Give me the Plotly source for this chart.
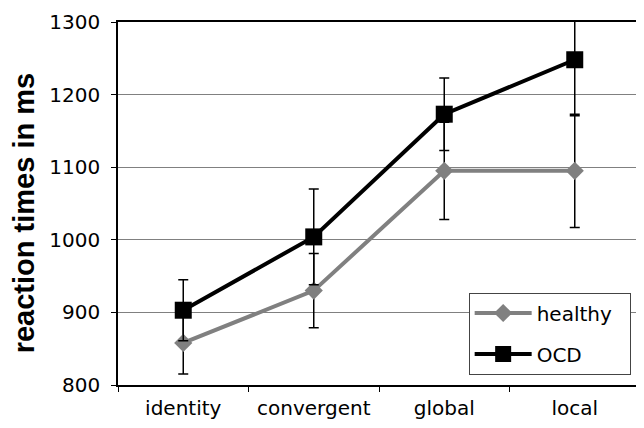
import plotly.graph_objects as go

categories = ["identity", "convergent", "global", "local"]
healthy = [858, 930, 1095, 1095]
healthy_err = [43, 51, 67, 78]
ocd = [903, 1004, 1173, 1248]
ocd_err = [42, 66, 50, 77]
y_ticks = [800, 900, 1000, 1100, 1200, 1300]

FONT = "DejaVu Sans, Liberation Sans, Arial, sans-serif"
TITLE_FONT = "Liberation Sans, Arial, sans-serif"

fig = go.Figure()
fig.add_trace(go.Scatter(
    x=categories, y=healthy, name="healthy\u00a0\u00a0", mode="lines+markers",
    legendgroup="h",
    line=dict(color="#808080", width=4),
    marker=dict(symbol="diamond", size=14, color="#808080"),
    error_y=dict(type="data", array=healthy_err, visible=True,
                 color="black", thickness=1.5, width=5),
))
fig.add_trace(go.Scatter(
    x=categories, y=ocd, name="OCD", mode="lines+markers",
    legendgroup="o",
    line=dict(color="black", width=4),
    marker=dict(symbol="square", size=17, color="black"),
    error_y=dict(type="data", array=ocd_err, visible=True,
                 color="black", thickness=1.5, width=5),
))

# page body has an 8px margin, so the figure is offset by 8px
fig.update_layout(
    width=636, height=420,
    margin=dict(l=110, r=2, t=12, b=43),
    paper_bgcolor="white", plot_bgcolor="white",
    font=dict(family=FONT, size=20, color="black"),
    showlegend=True,
    legend=dict(
        x=(470 - 118) / 524, y=(385 - 292) / 365, xanchor="left", yanchor="top",
        bgcolor="white", bordercolor="#444444", borderwidth=1,
        font=dict(size=20), tracegroupgap=12, itemwidth=57,
    ),
    annotations=[dict(
        text="<b>reaction times in ms</b>", textangle=-90,
        xref="paper", yref="paper", x=(24 - 118) / 524, y=(385 - 212) / 365,
        xanchor="center", yanchor="middle", showarrow=False,
        font=dict(size=29, family=TITLE_FONT, color="black"),
    )],
)
fig.update_xaxes(
    type="category", range=[-0.5, 3.5], tickson="boundaries", ticks="outside",
    ticklen=5, tickcolor="black", showgrid=False, showline=True,
    linecolor="black", linewidth=1.5, mirror=True, tickfont=dict(size=20),
    ticklabelstandoff=4,
)
fig.update_yaxes(
    range=[800, 1300], tickvals=y_ticks, ticks="outside", ticklen=5,
    tickcolor="black", showgrid=True, gridcolor="#808080", gridwidth=1,
    showline=True, linecolor="black", linewidth=1.5, mirror=True,
    tickfont=dict(size=20), ticklabelstandoff=7, zeroline=False,
)

fig.write_html("out.html")
